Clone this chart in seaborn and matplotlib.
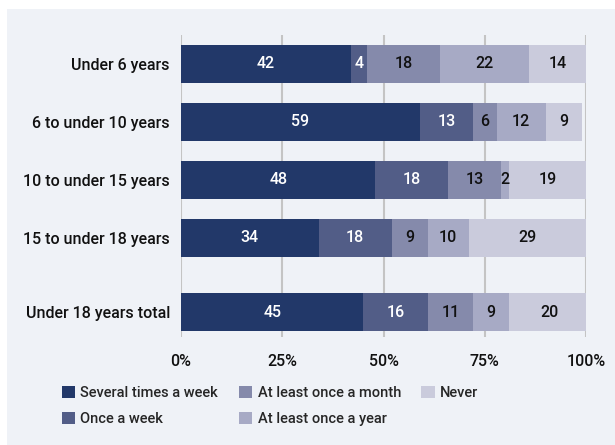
import matplotlib
matplotlib.use("Agg")
import matplotlib.pyplot as plt
from matplotlib.patches import Rectangle, Patch
import numpy as np
import pandas as pd
import seaborn as sns

# age groups (top to bottom), with a small gap before the total row
groups = ["Under 6 years", "6 to under 10 years", "10 to under 15 years",
          "15 to under 18 years", "Under 18 years total"]
positions = [0, 1, 2, 3, 4.28]

series = ["Several times a week", "Once a week", "At least once a month",
          "At least once a year", "Never"]
several_week = [42, 59, 48, 34, 45]
once_week = [4, 13, 18, 18, 16]
once_month = [18, 6, 13, 9, 11]
once_year = [22, 12, 2, 10, 9]
never = [14, 9, 19, 29, 20]

colors = ["#223869", "#525d87", "#858aab", "#a7aac5", "#cacbdc"]
label_colors = ["white", "white", "#111111", "#111111", "#111111"]
panel_bg = "#eff2f7"
grid_col = "#c4c4c4"

sns.set_theme(style="white")
plt.rcParams["font.family"] = ["Roboto", "DejaVu Sans"]
plt.rcParams["font.weight"] = 500

values = np.array([several_week, once_week, once_month, once_year, never])
cum = values.cumsum(axis=0)

fig = plt.figure(figsize=(6.15, 4.45), dpi=100, facecolor="white")
fig.patches.append(Rectangle((7 / 615, 0), 1, 1 - 9 / 445, transform=fig.transFigure,
                             facecolor=panel_bg, edgecolor="none", zorder=-10))
ax = fig.add_axes([181 / 615, 1 - 337 / 445, 405 / 615, 302 / 445])
ax.patch.set_alpha(0)

for x in [0, 25, 50, 75, 100]:
    ax.axvline(x, color=grid_col, lw=1.5, zorder=0)

# stacked bars: draw the cumulative totals from the largest down
for i in range(len(series) - 1, -1, -1):
    df = pd.DataFrame({"pos": positions, "end": cum[i]})
    sns.barplot(data=df, x="end", y="pos", orient="h", native_scale=True,
                color=colors[i], width=0.655, linewidth=0, errorbar=None,
                saturation=1, ax=ax, zorder=2)

for i in range(len(series)):
    for j, p in enumerate(positions):
        v = values[i][j]
        center = cum[i][j] - v / 2
        ax.text(center, p, str(v), ha="center", va="center", fontsize=11.5,
                color=label_colors[i], zorder=3)

ax.set_xlim(0, 100)
ax.set_ylim(4.71, -0.5)
ax.set_yticks(positions)
ax.set_yticklabels(groups, fontsize=11.5, color="#111111")
ax.set_xticks([0, 25, 50, 75, 100])
ax.set_xticklabels(["0%", "25%", "50%", "75%", "100%"], fontsize=11.5, color="#111111")
ax.set_xlabel("")
ax.set_ylabel("")
ax.tick_params(axis="x", length=6, width=1.5, color=grid_col, pad=6)
ax.tick_params(axis="y", length=0, pad=8)
for s in ax.spines.values():
    s.set_visible(False)

handles = [Patch(facecolor=c, edgecolor="none") for c in colors]
fig.legend(handles, series, loc="upper left", bbox_to_anchor=(0.1, 0.133),
           ncol=3, frameon=False, fontsize=10.5, handlelength=0.9, handleheight=0.9,
           handletextpad=0.4, columnspacing=1.4, labelspacing=0.85,
           borderaxespad=0, borderpad=0)

fig.savefig("out.png", dpi=100, facecolor="white")
